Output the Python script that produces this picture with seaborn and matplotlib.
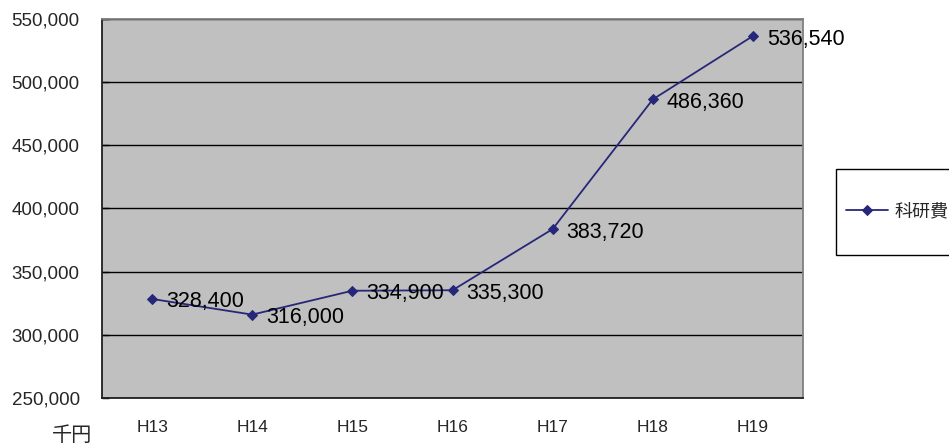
import matplotlib
matplotlib.use("Agg")
import matplotlib.pyplot as plt
import matplotlib.patches as mpatches
from matplotlib.ticker import FuncFormatter, FixedLocator
import seaborn as sns
import pandas as pd

# 科研費の推移（単位：千円）
years = ["H13", "H14", "H15", "H16", "H17", "H18", "H19"]
grants = [328400, 316000, 334900, 335300, 383720, 486360, 536540]
series_name = "科研費"
unit_label = "千円"

df = pd.DataFrame({"year": years, "value": grants})

sns.set_style("white")
plt.rcParams["font.family"] = ["Liberation Sans", "Noto Sans CJK JP", "DejaVu Sans"]

line_color = "#27277a"
fig = plt.figure(figsize=(9.49, 4.44), dpi=100)
ax = fig.add_axes([102 / 949, 1 - 398 / 444, 701 / 949, 379 / 444])
ax.set_facecolor("#c0c0c0")

sns.lineplot(data=df, x="year", y="value", ax=ax, color=line_color, lw=1.3,
             marker="D", markersize=5.5, markeredgecolor=line_color,
             label=series_name, legend=False)

for i, v in enumerate(grants):
    ax.annotate(f"{v:,}", (i, v), xytext=(14, -3), textcoords="offset pixels",
                ha="left", va="center", fontsize=15.5, color="black",
                annotation_clip=False)

ax.set_xlim(-0.5, 6.5)
ax.set_ylim(250000, 550000)
ax.yaxis.set_major_locator(FixedLocator(range(250000, 550001, 50000)))
ax.yaxis.set_major_formatter(FuncFormatter(lambda v, p: f"{int(v):,}"))
ax.grid(axis="y", color="black", lw=1.0)
ax.set_axisbelow(True)

ax.set_xticks(range(len(years)))
ax.set_xticklabels(years)
ax.set_xticks([i - 0.5 for i in range(len(years) + 1)], minor=True)
ax.tick_params(axis="x", which="major", length=0, pad=16, labelsize=12.5)
ax.tick_params(axis="x", which="minor", length=5, direction="in", color="black", width=1)
ax.tick_params(axis="y", which="major", length=5, direction="in", pad=16,
               labelsize=13.5, color="black", width=1, left=True)
ax.set_xlabel("")
ax.set_ylabel("")

for side in ["left", "bottom"]:
    ax.spines[side].set_color("#202020")
    ax.spines[side].set_linewidth(1.3)
for side in ["top", "right"]:
    ax.spines[side].set_color("#808080")
    ax.spines[side].set_linewidth(1.3)

fig.text(72 / 949, 1 - 435 / 444, unit_label, fontsize=14.5, ha="center", va="center")

# 凡例の枠
fig.patches.append(mpatches.Rectangle((836 / 949, 1 - 255 / 444), 0.2, 86 / 444,
                                      transform=fig.transFigure, fill=True,
                                      facecolor="white", edgecolor="black", lw=1.0))
handles, labels = ax.get_legend_handles_labels()
fig.legend(handles, labels, loc="center left", bbox_to_anchor=(846 / 949, 1 - 212 / 444),
           frameon=False, fontsize=13, handlelength=2.3, handletextpad=0.4,
           borderaxespad=0, borderpad=0)

fig.savefig("out.png", dpi=100)
